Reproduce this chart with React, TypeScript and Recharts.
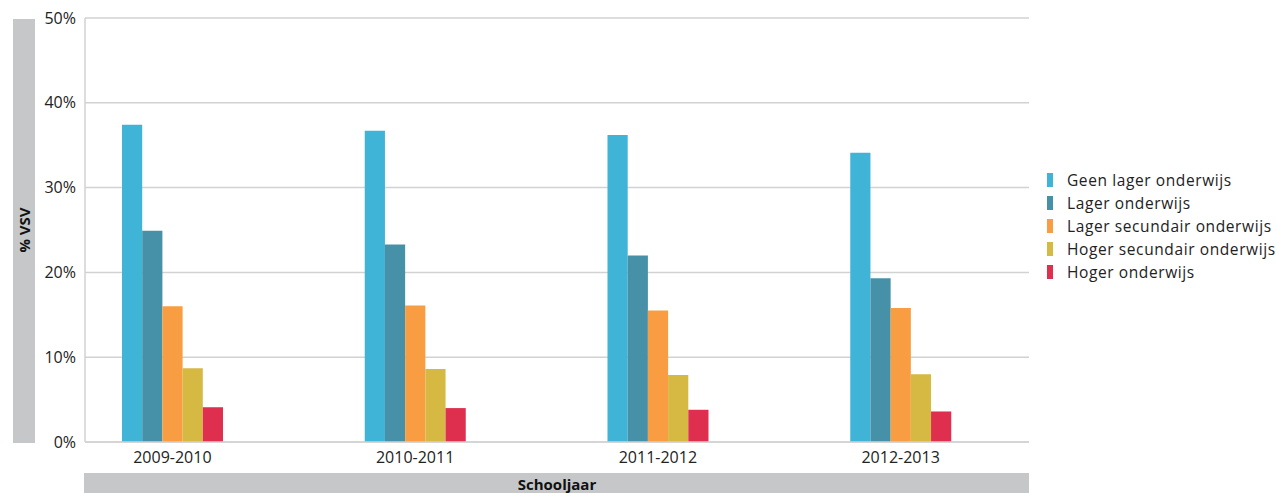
import React from "react";
import { BarChart, Bar, XAxis, YAxis, CartesianGrid, Legend } from "recharts";

const categories = ["2009-2010", "2010-2011", "2011-2012", "2012-2013"];
const seriesNames = [
  "Geen lager onderwijs",
  "Lager onderwijs",
  "Lager secundair onderwijs",
  "Hoger secundair onderwijs",
  "Hoger onderwijs",
];
const geenLager = [37.4, 36.7, 36.2, 34.1];
const lager = [24.9, 23.3, 22.0, 19.3];
const lagerSecundair = [16.0, 16.1, 15.5, 15.8];
const hogerSecundair = [8.7, 8.6, 7.9, 8.0];
const hoger = [4.1, 4.0, 3.8, 3.6];
const yTicks = [0, 10, 20, 30, 40, 50];
const colors = ["#3fb4d7", "#4791a8", "#f89d42", "#d5b943", "#de2f4f"];
const keys = ["s0", "s1", "s2", "s3", "s4"];

const seriesValues = [geenLager, lager, lagerSecundair, hogerSecundair, hoger];
const data = categories.map((c, i) => {
  const row: Record<string, string | number> = { cat: c };
  keys.forEach((k, j) => (row[k] = seriesValues[j][i]));
  return row;
});

const FONT = "'Open Sans', sans-serif";

const YLabel = (props: any) => {
  const { viewBox } = props;
  const y = viewBox.y;
  const h = viewBox.height;
  const cx = 24;
  const cy = y + h / 2;
  return (
    <g>
      <rect x={13} y={y + 1} width={22} height={h} fill="#c6c7c9" />
      <text
        x={cx}
        y={cy}
        transform={`rotate(-90, ${cx}, ${cy})`}
        textAnchor="middle"
        dominantBaseline="central"
        fontFamily={FONT}
        fontWeight={700}
        fontSize={15}
        fill="#111"
      >
        % VSV
      </text>
    </g>
  );
};

const XLabel = (props: any) => {
  const { viewBox } = props;
  const x = viewBox.x;
  const w = viewBox.width;
  return (
    <g>
      <rect x={x - 1} y={473} width={w + 1} height={20} fill="#c6c7c9" />
      <text
        x={x + w / 2}
        y={484}
        textAnchor="middle"
        dominantBaseline="central"
        fontFamily={FONT}
        fontWeight={700}
        fontSize={15}
        fill="#111"
      >
        Schooljaar
      </text>
    </g>
  );
};

const LegendContent = () => (
  <div style={{ fontFamily: FONT, fontSize: 15.5, color: "#222", letterSpacing: 0.6 }}>
    {seriesNames.map((n, i) => (
      <div key={n} style={{ display: "flex", alignItems: "center", height: 23 }}>
        <div style={{ width: 6, height: 14, background: colors[i], marginRight: 14 }} />
        <span style={{ whiteSpace: "nowrap" }}>{n}</span>
      </div>
    ))}
  </div>
);

export default function App() {
  return (
    <div style={{ position: "absolute", left: 0, top: 0, width: 1279, height: 493, background: "#fff" }}>
      <BarChart
        width={1279}
        height={493}
        data={data}
        margin={{ top: 18, right: 250, bottom: 0, left: 0 }}
        barGap={0}
        barSize={20.2}
      >
        <CartesianGrid vertical={false} stroke="#d2d2d2" strokeWidth={1.5} />
        <YAxis
          width={85}
          domain={[0, 50]}
          ticks={yTicks}
          tickFormatter={(v: number) => `${v}%`}
          axisLine={{ stroke: "#d2d2d2", strokeWidth: 1.5 }}
          tickLine={false}
          tickMargin={3}
          tick={{ fontFamily: FONT, fontSize: 16, fill: "#222" }}
          interval={0}
          label={<YLabel />}
        />
        <XAxis
          dataKey="cat"
          height={51}
          padding={{ left: -34, right: 7 }}
          axisLine={{ stroke: "#d2d2d2", strokeWidth: 1.5 }}
          tickLine={false}
          tickMargin={4}
          tick={{ fontFamily: FONT, fontSize: 16, fill: "#222" }}
          interval={0}
          label={<XLabel />}
        />
        <Legend
          layout="vertical"
          align="center"
          verticalAlign="middle"
          content={<LegendContent />}
          wrapperStyle={{ left: 1047, top: 168, width: 232 }}
        />
        {keys.map((k, i) => (
          <Bar key={k} dataKey={k} name={seriesNames[i]} fill={colors[i]} isAnimationActive={false} />
        ))}
      </BarChart>
    </div>
  );
}
